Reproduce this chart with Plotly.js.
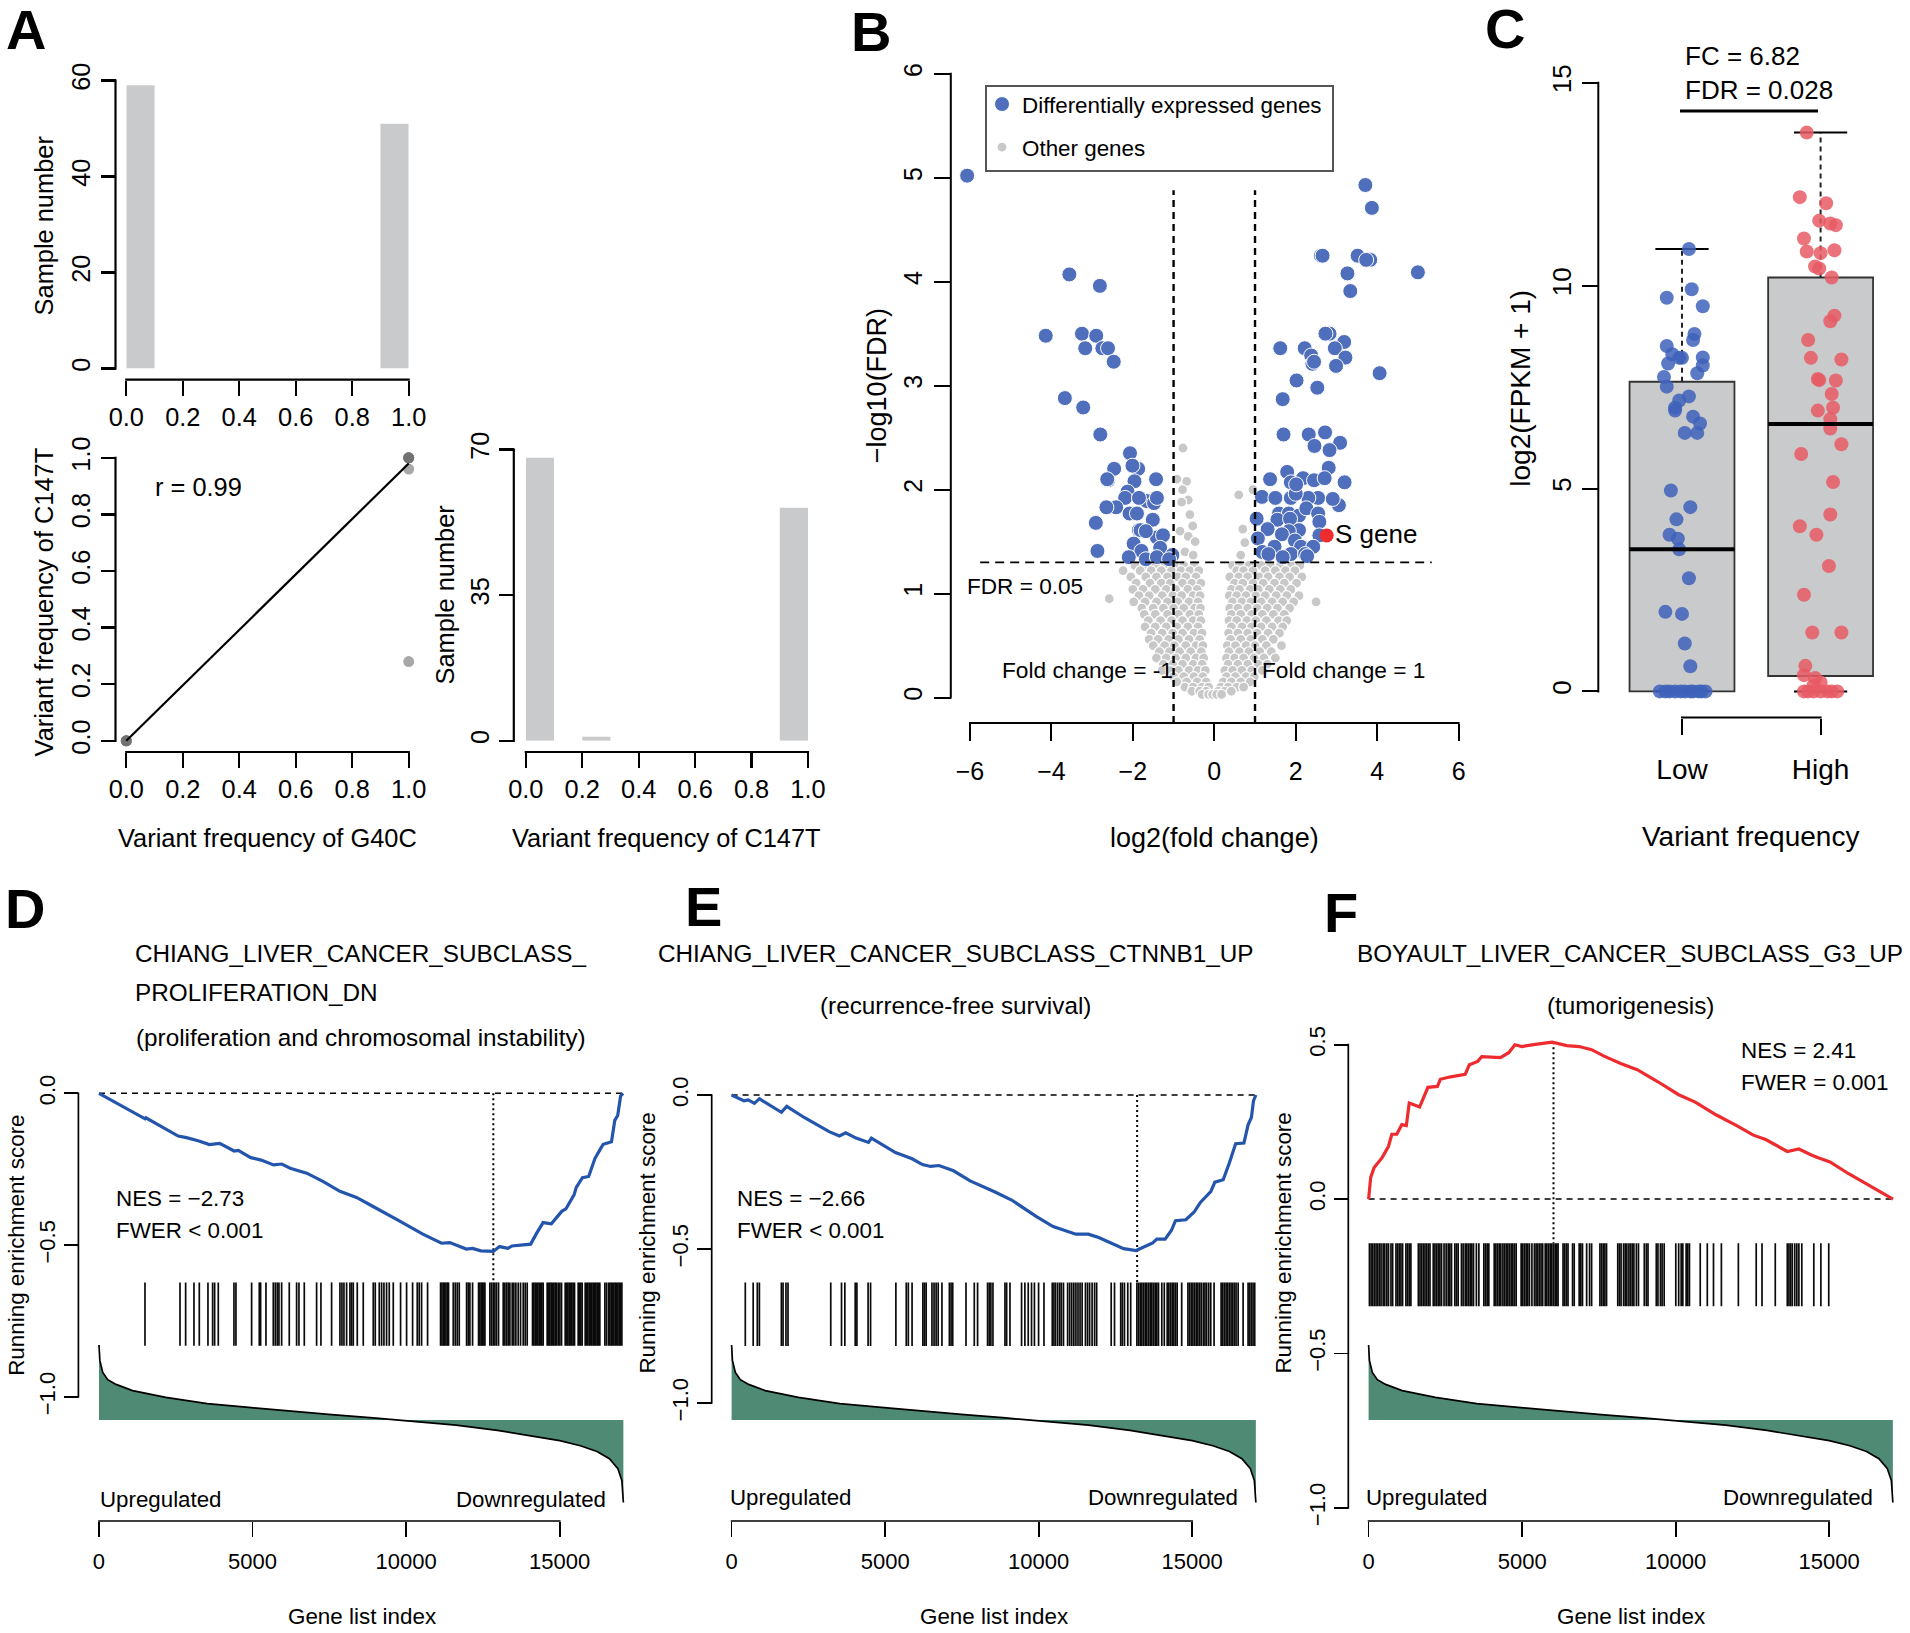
<!DOCTYPE html>
<html><head><meta charset="utf-8">
<script src="https://cdn.plot.ly/plotly-3.0.1.min.js"></script>
<style>html,body{margin:0;padding:0;background:#fff}</style></head>
<body><div id="chart" style="width:1910px;height:1633px"></div>
<script>
// ---------- Panel A data ----------
const g40cBinMid=[0.05,0.95];
const g40cCount=[59,51];
const c147tBinMid=[0.05,0.25,0.95];
const c147tCount=[68,1,56];
const pairG40C=[0,0,0,0,1,1,1,1,1,1];
const pairC147T=[0,0,0,0,1,1,1,1,0.96,0.28];
const fitX=[0,1];
const fitY=[0,0.98];
const freqTicks=[0,0.2,0.4,0.6,0.8,1];
// ---------- Panel B data ----------
const degLeft=[[-6.07,5.02],[-3.56,4.07],[-2.81,3.96],[-4.14,3.48],[-3.25,3.5],[-2.9,3.48],[-3.17,3.36],[-2.75,3.36],[-2.61,3.36],[-2.47,3.23],[-3.67,2.88],[-3.22,2.79],[-2.8,2.53],[-2.07,2.35],[-1.87,2.2],[-2.01,2.23],[-2.46,2.2],[-2.61,2.09],[-2.63,2.1],[-1.43,2.1],[-1.96,2.08],[-2.13,1.98],[-2.19,1.92],[-1.66,1.89],[-1.48,1.87],[-1.85,1.92],[-1.41,1.92],[-2.41,1.83],[-2.65,1.83],[-2.08,1.77],[-1.9,1.77],[-1.51,1.71],[-2.91,1.68],[-1.85,1.61],[-1.81,1.61],[-1.41,1.54],[-1.68,1.6],[-1.26,1.56],[-1.98,1.48],[-1.79,1.41],[-1.33,1.44],[-2.87,1.41],[-2.1,1.35],[-1.68,1.33],[-1.41,1.35],[-1.03,1.37],[-1.11,1.33]];
const degRight=[[3.71,4.93],[3.87,4.71],[2.62,4.25],[2.66,4.25],[3.52,4.25],[3.83,4.21],[3.73,4.21],[5,4.09],[3.27,4.08],[3.34,3.91],[2.83,3.5],[2.73,3.5],[3.19,3.42],[1.62,3.36],[2.22,3.36],[2.96,3.36],[2.38,3.29],[2.41,3.21],[2.45,3.23],[3.22,3.27],[2.99,3.19],[4.06,3.12],[2.02,3.05],[2.53,2.98],[1.68,2.87],[1.7,2.53],[2.32,2.53],[2.72,2.55],[3.09,2.45],[2.46,2.42],[2.83,2.38],[2.81,2.21],[1.79,2.17],[1.37,2.1],[2.18,2.11],[2.45,2.09],[2.71,2.11],[1.88,2.07],[3.2,2.07],[1.17,1.93],[1.5,1.92],[1.88,1.92],[3.06,1.85],[2.55,1.92],[2.31,1.92],[2.91,1.91],[2,1.96],[2.01,2.05],[1.59,1.77],[1.83,1.77],[2.08,1.75],[2.26,1.82],[2.55,1.77],[1.04,1.72],[1.55,1.71],[1.86,1.72],[2.58,1.69],[1.31,1.62],[2.08,1.61],[1.83,1.6],[1.66,1.57],[1.07,1.53],[2.58,1.56],[1.98,1.51],[1.48,1.45],[2.13,1.45],[2.43,1.45],[1.18,1.4],[1.33,1.38],[1.88,1.38],[2.23,1.38],[1.68,1.35],[2.28,1.36]];
const otherAbove=[[-0.77,2.4],[-0.68,2.08],[-0.92,2.1],[-0.78,2],[-0.64,1.9],[-0.8,1.88],[-0.6,1.76],[-0.53,1.65],[-0.84,1.6],[-0.64,1.55],[-0.47,1.5],[-0.72,1.4],[-0.52,1.37],[0.6,1.95],[0.7,1.62],[0.75,1.49],[0.65,1.37],[0.95,2]];
const otherRows=[
[1.27,[-1.95,-1.7,-1.45,-1.2,-.95,-.75,-.5,.45,.62,.85,1.15,1.38,1.62,1.9,2.1]],
[1.22,[-2.24,-1.82,-1.55,-1.3,-1.05,-.82,-.6,-.38,.55,.72,.95,1.25,1.5,1.75,1.98]],
[1.16,[-2.05,-1.68,-1.42,-1.15,-.9,-.7,-.45,.38,.6,.82,1.1,1.32,1.6,1.85,2.15]],
[1.10,[-1.92,-1.58,-1.3,-1.08,-.78,-.55,-.33,.5,.7,.95,1.2,1.48,1.72,2.02]],
[1.04,[-2.0,-1.75,-1.45,-1.18,-.95,-.65,-.42,.42,.62,.88,1.08,1.35,1.62,1.88]],
[.98,[-1.85,-1.6,-1.28,-1.02,-.8,-.52,-.35,.37,.55,.78,1.02,1.25,1.52,1.78,2.08]],
[.95,[-2.58]],[.92,[2.5]],
[.92,[-1.98,-1.7,-1.42,-1.15,-.9,-.62,-.4,.45,.68,.9,1.15,1.42,1.68,1.95]],
[.86,[-1.78,-1.5,-1.25,-1.0,-.75,-.48,-.34,.38,.58,.82,1.05,1.3,1.55,1.85]],
[.80,[-1.72,-1.45,-1.15,-.88,-.6,-.38,.42,.65,.92,1.18,1.45,1.72]],
[.74,[-1.62,-1.32,-1.05,-.78,-.52,-.33,.36,.55,.8,1.02,1.28,1.58,1.78]],
[.68,[-1.7,-1.45,-1.18,-.92,-.65,-.4,.42,.68,.92,1.15,1.42,1.68]],
[.62,[-1.55,-1.28,-1.02,-.78,-.5,-.3,.35,.58,.82,1.05,1.32,1.6]],
[.56,[-1.6,-1.38,-1.12,-.88,-.62,-.36,.4,.65,.9,1.18,1.45]],
[.50,[-1.5,-1.22,-.98,-.7,-.45,-.28,.32,.52,.78,1.0,1.28,1.65]],
[.44,[-1.35,-1.1,-.85,-.58,-.32,.36,.62,.85,1.12,1.4]],
[.38,[-1.42,-1.18,-.95,-.7,-.45,-.26,.3,.5,.72,.98,1.22,1.5]],
[.32,[-1.25,-1.02,-.78,-.52,-.3,.34,.58,.82,1.08,1.3]],
[.26,[-1.28,-1.08,-.88,-.62,-.4,-.22,.26,.45,.68,.92,1.18]],
[.20,[-1.0,-.75,-.5,-.28,.3,.52,.78,.98]],
[.15,[-.92,-.68,-.42,-.2,.22,.42,.65,.88]],
[.10,[-.72,-.52,-.3,-.14,.16,.34,.55,.72]],
[.06,[-.55,-.36,-.2,.1,.25,.42]],
[.03,[-.3,-.14,-.04,.06,.18]]];
const sGeneFC=[2.76];
const sGeneFDR=[1.558];
const fcCut=[-1,1];
const fdrCut=1.3;
const volcanoXTicks=[-6,-4,-2,0,2,4,6];
const volcanoYTicks=[0,1,2,3,4,5,6];
// ---------- Panel C data ----------
const lowX=[1.05,1.07,.89,1.15,1.09,1.08,.89,.93,.98,1.0,1.15,.9,1.15,1.11,.87,.89,1.05,.98,.95,.95,1.08,1.13,1.02,1.11,.92,1.06,.96,.91,.97,.98,1.05,.88,1.0,1.02,1.06,.84,.88,.91,.95,.99,1.02,1.06,1.08,1.12,1.14,1.17];
const lowY=[10.9,9.91,9.7,9.49,8.81,8.66,8.51,8.31,8.22,8.22,8.23,8.08,8.03,7.84,7.75,7.51,7.27,7.17,6.99,6.92,6.77,6.6,6.37,6.37,4.95,4.54,4.24,3.86,3.76,3.5,2.79,1.96,1.91,1.18,.62,0,0,0,0,0,0,0,0,0,0,0];
const highX=[1.9,1.85,2.04,1.99,2.07,2.11,1.88,1.9,2.0,2.1,1.96,1.99,2.08,2.1,2.07,1.91,1.93,2.15,1.98,1.99,2.11,2.08,2.09,1.98,2.07,2.07,2.15,1.86,2.09,2.07,1.85,1.97,2.06,1.88,1.94,2.15,1.89,1.88,1.96,2.0,1.95,1.88,1.91,1.95,2.0,2.05,2.08,2.12];
const highY=[13.77,12.18,12.03,11.6,11.53,11.49,11.16,10.84,10.8,10.87,10.47,10.42,10.2,9.26,9.12,8.66,8.22,8.18,7.7,7.67,7.66,7.33,6.99,6.92,6.71,6.48,6.09,5.85,5.16,4.36,4.07,3.86,3.09,2.38,1.45,1.45,.63,.4,.33,.22,.15,0,0,0,0,0,0,0];
const boxCats=[1,2];
const boxQ1=[0,0.38];
const boxMedian=[3.5,6.59];
const boxQ3=[7.63,10.2];
const whiskerHi=[10.9,13.77];
const whiskerLo=[0,0];
const groupLabels=['Low','High'];
// ---------- Panels D-F data ----------
const rankIndex=[0,27,122,284,554,1094,2174,3524,4874,6224,7574,8924,10004,11624,12974,14324,15000,15674,16214,16619,16889,17024,17073];
const rankMetric=[1,.795,.635,.538,.474,.391,.301,.218,.167,.115,.071,.026,-.013,-.071,-.141,-.231,-.276,-.346,-.423,-.519,-.647,-.808,-1.103];
const geneTicks=[0,5000,10000,15000];
const esD_x=[0,1499,1526,2579,2849,3254,3591,3929,4401,4536,4941,5279,5684,5954,6224,6764,7304,7844,8384,8924,9734,10544,11151,11421,11961,12164,12434,12839,13041,13311,13446,14054,14256,14459,14729,15066,15201,15471,15539,15741,15944,16146,16322,16416,16686,16794,16889,16983,17064];
const esD_y=[0,-.084,-.081,-.141,-.146,-.157,-.169,-.165,-.19,-.188,-.212,-.22,-.236,-.233,-.247,-.263,-.291,-.323,-.343,-.373,-.418,-.464,-.494,-.492,-.513,-.511,-.519,-.521,-.505,-.511,-.503,-.497,-.46,-.426,-.43,-.389,-.381,-.334,-.31,-.278,-.274,-.215,-.184,-.168,-.16,-.089,-.073,-.009,0];
const esE_x=[0,405,540,743,905,1013,1621,1797,2364,3175,3513,3715,4053,4458,4553,5336,5877,6215,6485,6755,7228,7768,8579,9119,9930,10470,11213,11619,11956,12767,13172,13713,13848,14118,14321,14456,14793,15064,15266,15604,15739,16009,16212,16415,16685,16820,16928,16996,17073];
const esE_y=[0,-.019,-.016,-.027,-.012,-.019,-.056,-.037,-.073,-.119,-.133,-.123,-.14,-.154,-.14,-.187,-.207,-.226,-.232,-.229,-.246,-.279,-.315,-.341,-.395,-.427,-.452,-.452,-.463,-.499,-.505,-.48,-.468,-.468,-.44,-.408,-.405,-.38,-.349,-.314,-.283,-.275,-.22,-.158,-.156,-.097,-.073,-.019,0];
const esF_x=[0,68,176,446,648,756,918,1080,1229,1323,1661,1931,2241,2336,2673,3146,3281,3551,3686,4293,4563,4766,4995,5373,5981,6453,6858,7263,7668,8208,8748,9423,10098,10638,11313,11988,12528,12933,13635,14013,14418,14621,15026,15633,17078];
const esF_y=[0,.07,.101,.135,.171,.21,.21,.241,.238,.311,.298,.362,.365,.388,.396,.404,.435,.446,.461,.458,.474,.5,.494,.5,.508,.497,.494,.484,.463,.439,.419,.38,.338,.314,.273,.238,.207,.193,.154,.162,.143,.135,.12,.082,0];
const rugD=[1497,2637,2821,3092,3266,3548,3700,3765,3884,4394,4459,4969,5219,5262,5436,5675,5740,5805,5859,5946,6195,6434,6510,6684,7085,7226,7573,7845,7910,7975,8062,8170,8224,8279,8409,8604,8930,8995,9125,9201,9277,9363,9450,9581,9819,10015,10210,10362,10427,10503,10698,11121,11165,11208,11251,11295,11338,11381,11534,11599,11664,11729,11968,12022,12076,12163,12358,12401,12445,12488,12532,12565,12727,12781,12836,12890,12944,13009,13161,13215,13270,13324,13378,13454,13508,13573,13649,13725,13812,13877,13942,14115,14158,14202,14245,14289,14332,14375,14419,14462,14593,14636,14680,14723,14766,14810,14853,14897,14951,15006,15060,15179,15223,15266,15309,15353,15396,15440,15483,15602,15645,15689,15732,15830,15873,15916,15960,16003,16047,16090,16133,16177,16220,16263,16307,16471,16525,16590,16633,16677,16720,16764,16807,16850,16894,16937,16981,17024];
const rugE=[446,703,838,905,1621,1675,1770,1837,3229,3580,3688,4026,4080,4445,4526,5350,5688,5755,5877,6229,6282,6336,6525,6593,6660,6728,6850,7093,7147,7201,7633,7903,8011,8336,8390,8444,8511,8903,8957,9065,9443,9551,9660,9768,9862,9997,10173,10443,10497,10551,10619,10686,10740,10808,10943,11011,11078,11146,11213,11281,11348,11416,11524,11592,11659,11740,11821,11889,12362,12470,12672,12726,12794,12902,12997,13199,13253,13307,13361,13415,13469,13523,13578,13632,13686,13740,13794,13848,13902,14010,14091,14186,14240,14294,14348,14402,14456,14510,14658,14861,14915,14969,15023,15077,15131,15185,15239,15293,15361,15415,15469,15537,15604,15712,15942,15996,16050,16104,16158,16212,16266,16320,16374,16428,16496,16658,16820,16874,16928,16982,17036];
const rugF=[27,81,135,189,243,297,351,405,473,527,594,648,729,783,891,945,999,1053,1107,1215,1269,1323,1377,1620,1674,1728,1782,1836,1890,1944,1998,2106,2160,2214,2268,2322,2376,2457,2525,2592,2646,2700,2808,2862,2916,3024,3078,3146,3200,3254,3308,3362,3416,3510,3591,3753,3807,3861,3915,4091,4145,4199,4253,4307,4374,4428,4482,4536,4590,4644,4698,4752,4806,4968,5022,5076,5130,5184,5238,5319,5400,5454,5508,5562,5616,5670,5751,5805,5859,5913,5967,6021,6075,6129,6170,6332,6386,6440,6494,6642,6696,6858,6912,6966,7101,7196,7263,7533,7587,7641,7695,7749,8114,8168,8222,8303,8357,8411,8478,8532,8586,8640,8721,8789,8978,9045,9099,9369,9423,9504,9558,9626,10004,10098,10179,10233,10341,10395,10449,10800,11030,11232,11489,12042,12623,12812,13244,13635,13689,13743,13797,13878,13946,14013,14108,14499,14729,14985];
const peakD=12839, peakE=13207, peakF=6021;

// ---------- helpers ----------
const W=1910,H=1633,FONT='"Liberation Sans",Arial,sans-serif';
const layout={width:W,height:H,autosize:false,margin:{l:0,r:0,t:0,b:0},paper_bgcolor:'#fff',plot_bgcolor:'rgba(0,0,0,0)',
  font:{family:FONT,color:'#000'},showlegend:true,annotations:[],shapes:[],hovermode:false,
  legend:{x:982/W,y:1-83/H,xanchor:'left',yanchor:'top',bgcolor:'rgba(255,255,255,0)',borderwidth:0,
    font:{size:22.4,family:FONT},tracegroupgap:11,itemwidth:30,itemclick:false}};
const traces=[];
function fmt(v,d){const s=Math.abs(v).toFixed(d);return (v<0?'\u2212':'')+s;}
function segment(x0,y0,x1,y1,w,color){layout.shapes.push({type:'line',xref:'paper',yref:'paper',x0:x0/W,x1:x1/W,y0:1-y0/H,y1:1-y1/H,line:{color:color||'#000',width:w}});}
// Each axis pair: the data window is wider than the tick span, so the R-style axis line spans only the ticks.
function axes(n,o){
  const sx=n===1?'':n, xp=o.xpad||[0,0], yp=o.ypad||[0,0];
  const ppx=(o.x1-o.x0)/(o.xr[1]-o.xr[0]), ppy=(o.y1-o.y0)/(o.yr[1]-o.yr[0]);
  const ax={
    domain:[(o.x0-xp[0]*ppx)/W,(o.x1+xp[1]*ppx)/W],range:[o.xr[0]-xp[0],o.xr[1]+xp[1]],anchor:'free',position:1-o.xl/H,side:'bottom',showgrid:false,zeroline:false,
    showline:false,ticks:'outside',ticklen:o.tl,tickwidth:o.lw,tickcolor:'#000',
    tickmode:'array',tickvals:o.xt,ticktext:o.xtl,tickangle:0,ticklabelstandoff:o.xso||0,tickfont:{size:o.fs,family:FONT,color:'#000'},fixedrange:true},
  ay={
    domain:[1-(o.y1+yp[0]*ppy)/H,1-(o.y0-yp[1]*ppy)/H],range:[o.yr[0]-yp[0],o.yr[1]+yp[1]],anchor:'free',position:o.yl/W,side:'left',showgrid:false,zeroline:false,
    showline:false,ticks:'outside',ticklen:o.tl,tickwidth:o.lw,tickcolor:'#000',
    tickmode:'array',tickvals:o.yt,ticktext:o.ytl,tickangle:-90,ticklabelstandoff:o.yso||0,tickfont:{size:o.fsy||o.fs,family:FONT,color:'#000'},fixedrange:true};
  layout['xaxis'+sx]=ax;layout['yaxis'+sx]=ay;
  const h=o.lw/2;
  segment(o.x0-h,o.xl,o.x1+h,o.xl,o.lw);
  segment(o.yl,o.y0-h,o.yl,o.y1+h,o.lw);
  return {xaxis:'x'+sx,yaxis:'y'+sx};
}
function hiddenY(n,y0,y1,r){layout['yaxis'+n]={domain:[1-y1/H,1-y0/H],range:r,visible:false,anchor:'free',position:0,fixedrange:true};}
function note(t,x,y,size,o){o=o||{};if(o.xanchor==='left')x-=1.5;layout.annotations.push(Object.assign({text:t,x:x/W,y:1-y/H,xref:'paper',yref:'paper',showarrow:false,
  xanchor:'center',yanchor:'middle',borderpad:0,font:{size:size,family:FONT,color:'#000'}},o));}
function ynote(t,x,y,size){note(t,x,y,size,{textangle:-90});}
function letter(t,x,y){layout.annotations.push({text:'<b>'+t+'</b>',x:x/W,y:1-y/H,xref:'paper',yref:'paper',showarrow:false,xanchor:'left',yanchor:'middle',borderpad:0,font:{size:56,family:FONT,color:'#000'}});}
function line(ax,x,y,w,dash,color){traces.push(Object.assign({type:'scatter',mode:'lines',x:x,y:y,showlegend:false,hoverinfo:'skip',line:{color:color||'#000',width:w,dash:dash||'solid',simplify:false}},ax));}
function tk(a,d){return a.map(v=>fmt(v,d));}
const FS_A=25.4;

// ---------- Panel A ----------
const BAR='#c9cacc';
const a1=axes(1,{x0:126.3,x1:408.7,y0:80.5,y1:368.5,xr:[0,1],yr:[0,60],xl:379.6,yl:115.5,lw:2.2,tl:15,xt:freqTicks,xtl:tk(freqTicks,1),yt:[0,20,40,60],ytl:['0','20','40','60'],fs:FS_A});
traces.push(Object.assign({type:'bar',x:g40cBinMid,y:g40cCount,width:0.1,marker:{color:BAR},showlegend:false,hoverinfo:'skip'},a1));
const a2=axes(2,{x0:126.3,x1:408.7,y0:457.8,y1:740.8,xr:[0,1],yr:[0,1],xpad:[.03,.03],ypad:[.03,.03],xl:752,yl:115.5,lw:2.2,tl:15,xt:freqTicks,xtl:tk(freqTicks,1),yt:freqTicks,ytl:tk(freqTicks,1),fs:FS_A});
traces.push(Object.assign({type:'scatter',mode:'markers',x:pairG40C,y:pairC147T,showlegend:false,hoverinfo:'skip',marker:{size:11,color:'rgba(110,110,110,0.6)'}},a2));
line(a2,fitX,fitY,2.2);
const a3=axes(3,{x0:525.8,x1:808,y0:449.5,y1:740.8,xr:[0,1],yr:[0,70],xl:752,yl:513.8,lw:2.2,tl:15,xt:freqTicks,xtl:tk(freqTicks,1),yt:[0,35,70],ytl:['0','35','70'],fs:FS_A});
traces.push(Object.assign({type:'bar',x:c147tBinMid,y:c147tCount,width:0.1,marker:{color:BAR},showlegend:false,hoverinfo:'skip'},a3));
letter('A',5,30);
ynote('Sample number',44.4,225,FS_A);
ynote('Variant frequency of C147T',44.4,602,FS_A);
ynote('Sample number',444.5,595,FS_A);
note('Variant frequency of G40C',267,838,FS_A);
note('Variant frequency of C147T',666.7,838,FS_A);
note('r = 0.99',198,486.7,FS_A);

// ---------- Panel B ----------
const b=axes(4,{x0:970,x1:1458.6,y0:73.8,y1:697.5,xr:[-6,6],yr:[0,6],xpad:[.5,.5],ypad:[.4,.2],xl:723,yl:950.8,lw:2,tl:16.5,xso:9,yso:2,xt:volcanoXTicks,xtl:tk(volcanoXTicks,0),yt:volcanoYTicks,ytl:volcanoYTicks.map(String),fs:25});
const otherX=[],otherY=[];
otherAbove.forEach(p=>{otherX.push(p[0]);otherY.push(p[1]);});
otherRows.forEach(r=>r[1].forEach(v=>{otherX.push(v);otherY.push(r[0]);}));
traces.push(Object.assign({type:'scatter',mode:'markers',name:'Other genes',legendgroup:'o',legendrank:2,x:otherX,y:otherY,hoverinfo:'skip',marker:{size:10,color:'#c8c8c8',line:{color:'#fff',width:1.2}}},b));
const deg=degLeft.concat(degRight);
traces.push(Object.assign({type:'scatter',mode:'markers',name:'Differentially expressed genes',legendgroup:'d',legendrank:1,x:deg.map(p=>p[0]),y:deg.map(p=>p[1]),hoverinfo:'skip',marker:{size:15,color:'#4f6fbc',line:{color:'#fff',width:1}}},b));
traces.push(Object.assign({type:'scatter',mode:'markers',x:sGeneFC,y:sGeneFDR,showlegend:false,hoverinfo:'skip',marker:{size:14,color:'#ee2b2f'}},b));
fcCut.forEach(c=>line(b,[c,c],[-0.246,4.88],2.4,'7px,5px'));
line(b,[-5.75,5.34],[fdrCut,fdrCut],1.8,'9px,6px');
layout.shapes.push({type:'rect',xref:'paper',yref:'paper',x0:986/W,x1:1333/W,y0:1-86/H,y1:1-171/H,line:{color:'#555',width:2}});
letter('B',850,32);
ynote('\u2212log10(FDR)',876.5,385.7,27);
note('log2(fold change)',1214.5,838,27);
note('FDR = 0.05',967,586.6,22.6,{xanchor:'left'});
note('Fold change = -1',1002,670,22.7,{xanchor:'left'});
note('Fold change = 1',1262,670,22.7,{xanchor:'left'});
note('S gene',1335.7,534.4,26,{xanchor:'left'});

// ---------- Panel C ----------
const c=axes(5,{x0:1682,x1:1820.6,y0:82.7,y1:691.4,xr:[1,2],yr:[0,15],xpad:[.6,.6],ypad:[.5,.2],xl:717.5,yl:1598.3,lw:2,tl:16.5,xso:10,xt:boxCats,xtl:groupLabels,yt:[0,5,10,15],ytl:['0','5','10','15'],fs:28,fsy:26});
traces.push(Object.assign({type:'box',x:boxCats,q1:boxQ1,median:boxMedian,q3:boxQ3,lowerfence:boxQ1,upperfence:boxQ3,width:0.757,boxpoints:false,whiskerwidth:0,showlegend:false,hoverinfo:'skip',fillcolor:BAR,line:{color:'#333',width:1.8}},c));
boxCats.forEach((k,i)=>{
  line(c,[k,k],[boxQ3[i],whiskerHi[i]],2,'5px,4px','#222');
  line(c,[k-0.192,k+0.192],[whiskerHi[i],whiskerHi[i]],2);
  line(c,[k-0.192,k+0.192],[whiskerLo[i],whiskerLo[i]],2);
});
traces.push(Object.assign({type:'scatter',mode:'markers',x:lowX,y:lowY,showlegend:false,hoverinfo:'skip',marker:{size:14,color:'rgba(62,98,186,0.85)'}},c));
traces.push(Object.assign({type:'scatter',mode:'markers',x:highX,y:highY,showlegend:false,hoverinfo:'skip',marker:{size:14,color:'rgba(232,90,100,0.85)'}},c));
boxCats.forEach((k,i)=>line(c,[k-0.378,k+0.378],[boxMedian[i],boxMedian[i]],4));
letter('C',1484,28.5);
ynote('log2(FPKM + 1)',1520.7,388,28);
note('Variant frequency',1750.7,836,28);
note('FC = 6.82',1685,56,26,{xanchor:'left'});
note('FDR = 0.028',1685,90.5,26,{xanchor:'left'});
segment(1680,111,1818,111,3);

// ---------- Panels D, E, F ----------
function gsea(n,o){
  const ax=axes(n,{x0:o.x0,x1:o.x0+o.xlen,y0:o.ytop,y1:o.ybot,xr:[0,15000],yr:o.yr,xpad:[300,2200],ypad:[.03,.04],xl:1521,yl:o.yl,lw:1.7,tl:14.5,xso:6,xt:geneTicks,xtl:geneTicks.map(String),yt:o.yt,ytl:tk(o.yt,1),fs:22});
  const m=n+1;
  hiddenY(m,1335.3,1512.2,[-1.233,1.13]);
  traces.push({type:'scatter',mode:'lines',xaxis:ax.xaxis,yaxis:'y'+m,x:rankIndex,y:rankMetric,fill:'tozeroy',fillcolor:'#4f8a74',showlegend:false,hoverinfo:'skip',line:{color:'#000',width:1.7}});
  const rx=[],ry=[];
  o.rug.forEach(v=>{rx.push(v,v,null);ry.push(o.rugY[0],o.rugY[1],null);});
  line(ax,rx,ry,1.7,'solid','#0a0a0a');
  line(ax,[0,o.end],[0,0],1.6,'6px,5px');
  line(ax,[o.peak,o.peak],[o.peakTop,o.rugY[0]],2,'2px,3px');
  line(ax,o.ex,o.ey,3.2,'solid',o.color);
  ynote('Running enrichment score',o.ytx,o.yty,22.4);
  note('Gene list index',o.gx,1616,22.4);
  note(o.nes,o.nesx,o.nesy,22.4,{xanchor:'left'});
  note(o.fwer,o.nesx,o.nesy+32.4,22.4,{xanchor:'left'});
  note('Upregulated',o.upx,o.updy,22.3,{xanchor:'left'});
  note('Downregulated',o.downx,o.updy,22.3,{xanchor:'left'});
}
gsea(6,{x0:99,xlen:460.7,ytop:1093.3,ybot:1396.8,yr:[-1,0],yl:78.4,yt:[0,-0.5,-1],rug:rugD,rugY:[-.623,-.832],end:17073,peak:peakD,peakTop:0,ex:esD_x,ey:esD_y,color:'#2455ad',ytx:15.8,yty:1245,gx:361.5,nes:'NES = \u22122.73',fwer:'FWER < 0.001',nesx:116,nesy:1198,upx:100.3,downx:456.9,updy:1499.6});
gsea(8,{x0:731.6,xlen:460.6,ytop:1095,ybot:1403,yr:[-1,0],yl:711.7,yt:[0,-0.5,-1],rug:rugE,rugY:[-.609,-.815],end:17073,peak:peakE,peakTop:0,ex:esE_x,ey:esE_y,color:'#2455ad',ytx:648,yty:1243.6,gx:994,nes:'NES = \u22122.66',fwer:'FWER < 0.001',nesx:737.8,nesy:1198,upx:730.7,downx:1088,updy:1497.7});
gsea(10,{x0:1368.6,xlen:460.6,ytop:1044.7,ybot:1507.8,yr:[-1,0.5],yl:1348.3,yt:[0.5,0,-0.5,-1],rug:rugF,rugY:[-.143,-.347],end:17078,peak:peakF,peakTop:0.508,ex:esF_x,ey:esF_y,color:'#ee2b2f',ytx:1284,yty:1243.6,gx:1631,nes:'NES = 2.41',fwer:'FWER = 0.001',nesx:1741,nesy:1050.5,upx:1366.5,downx:1723,updy:1497.7});
letter('D',4,908.5);letter('E',684,907);letter('F',1323,912.5);
note('CHIANG_LIVER_CANCER_SUBCLASS_',135,953,24.3,{xanchor:'left'});
note('PROLIFERATION_DN',135,992.9,24.3,{xanchor:'left'});
note('(proliferation and chromosomal instability)',136.8,1037.5,24.3,{xanchor:'left'});
note('CHIANG_LIVER_CANCER_SUBCLASS_CTNNB1_UP',955,953,24.3);
note('(recurrence-free survival)',955.9,1005.8,24.3);
note('BOYAULT_LIVER_CANCER_SUBCLASS_G3_UP',1629.8,953,24.3);
note('(tumorigenesis)',1630.6,1005.8,24.3);

Plotly.newPlot('chart',traces,layout,{displayModeBar:false,staticPlot:true,responsive:false});
</script></body></html>
